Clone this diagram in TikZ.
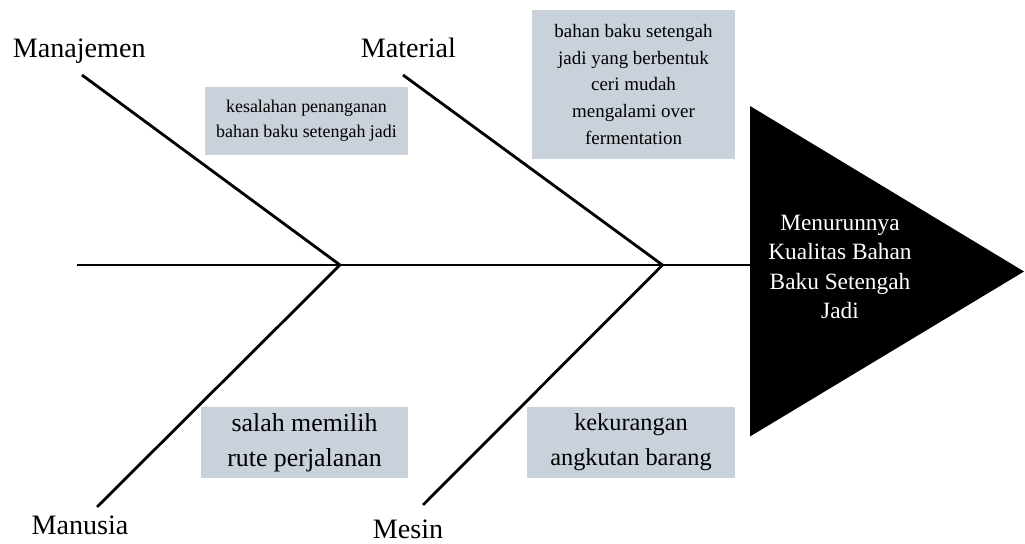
\documentclass[tikz,border=0pt]{standalone}
\usepackage{fontspec}
\setmainfont{Liberation Serif}
\usepackage{tkz-euclide}
\usetikzlibrary{calc}
\usetikzlibrary{positioning}
\definecolor{boxgray}{RGB}{201,209,219}

\tikzset{
  bone/.style={line width=2pt},
  cause/.style={font=\fontsize{20}{24}\selectfont, anchor=base, inner sep=0pt},
  note/.style={fill=boxgray, align=center, inner sep=0pt}
}

\begin{document}
\begin{tikzpicture}
      \tkzDefPoints{0/0/O,25.625/13.6/Z}
      \useasboundingbox (O) rectangle (Z);

      \tkzDefPoints{1.925/6.975/S,8.5/6.975/P,16.5625/6.975/Q,18.75/6.975/H}
      \tkzDefPoints{2.05/11.725/A,2.425/0.925/B,10.075/11.725/C,10.575/0.975/D}
      \tkzDefPoints{18.75/10.95/T,25.6/6.8125/K,18.75/2.6875/U}

      % kepala
      \fill[black] (T) -- (K) -- (U) -- cycle;
      \node[align=center, text=white, font=\fontsize{16.6}{21}\selectfont]
        (akibat) at (21.0,6.925)
        {Menurunnya\\Kualitas Bahan\\Baku Setengah\\Jadi};

      % tulang
      \draw[bone] (S) -- (H);
      \draw[bone] (A) -- (P) -- (B);
      \draw[bone] (C) -- (Q) -- (D);

      \node[cause] (manajemen) at (1.98,12.15) {Manajemen};
      \node[cause] (material) at (10.21,12.15) {Material};
      \node[cause] (manusia) at (2.0,0.225) {Manusia};
      \node[cause] (mesin) at (10.2,0.13) {Mesin};

      \node[note, minimum width=5.075cm, minimum height=1.7cm,
        font=\fontsize{12.75}{17.8}\selectfont] (salahtangan) at (7.6625,10.575)
        {kesalahan penanganan\\bahan baku setengah jadi};
      \node[note, minimum width=5.075cm, minimum height=3.725cm,
        font=\fontsize{13.5}{19}\selectfont] (ceri) at (15.8375,11.4875)
        {bahan baku setengah\\jadi yang berbentuk\\ceri mudah\\mengalami over\\fermentation};
      \node[note, minimum width=5.175cm, minimum height=1.775cm,
        font=\fontsize{18.4}{24.9}\selectfont] (rute) at (7.6125,2.5375)
        {salah memilih\\rute perjalanan};
      \node[note, minimum width=5.2cm, minimum height=1.775cm,
        font=\fontsize{17.3}{24.7}\selectfont] (angkutan) at (15.775,2.5375)
        {kekurangan\\angkutan barang};
\end{tikzpicture}
\end{document}
